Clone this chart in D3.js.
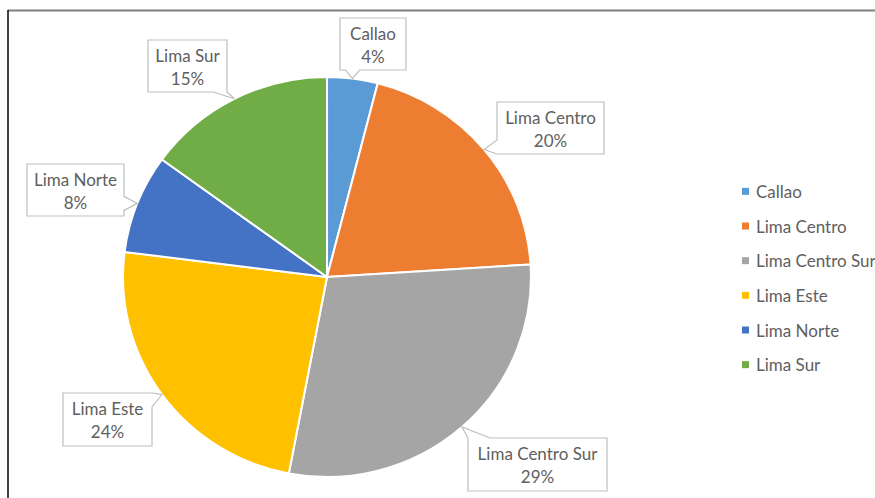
<!DOCTYPE html>
<html>
<head>
<meta charset="utf-8">
<script src="https://cdn.jsdelivr.net/npm/d3@7"></script>
<style>
  html, body { margin: 0; padding: 0; background: #fff; }
  svg { display: block; }
  text { font-family: Lato, "Open Sans", sans-serif; fill: #606060; }
</style>
</head>
<body>
<svg id="chart" width="875" height="498"></svg>
<script>
// Regions and their share of the total (%)
const regions = ["Callao", "Lima Centro", "Lima Centro Sur", "Lima Este", "Lima Norte", "Lima Sur"];
const shares  = [4, 20, 29, 24, 8, 15];
const colors  = ["#5B9BD5", "#ED7D31", "#A5A5A5", "#FFC000", "#4472C4", "#70AD47"];

// Callout boxes for the data labels: [x, y, width, height, side the pointer leaves from]
const calloutBoxes = [
  [340, 18, 66, 52, "bottom"],
  [497, 102, 107, 52, "left"],
  [468, 438, 139, 53, "top"],
  [63, 393, 89, 53, "right"],
  [27, 164, 97, 52, "right"],
  [148, 40, 79, 52, "bottom"]
];

const svg = d3.select("#chart");
const W = 875, H = 498;
const cx = 327, cy = 277, r = 200, sx = 1.02;
const fontSize = 17;

// frame edges
svg.append("line").attr("x1", 8).attr("x2", W).attr("y1", 10.5).attr("y2", 10.5)
  .attr("stroke", "#7f7f7f").attr("stroke-width", 2);
svg.append("line").attr("x1", 8).attr("x2", 8).attr("y1", 10).attr("y2", H)
  .attr("stroke", "#000").attr("stroke-width", 1.5);

const data = regions.map((name, i) => ({ name, value: shares[i], color: colors[i] }));
const pie = d3.pie().value(d => d.value).sort(null);
const arcs = pie(data);
const arc = d3.arc().innerRadius(0).outerRadius(r);

const g = svg.append("g").attr("transform", `translate(${cx},${cy}) scale(${sx},1)`);
g.selectAll("path.slice").data(arcs).join("path")
  .attr("class", "slice")
  .attr("d", arc)
  .attr("fill", d => d.data.color)
  .attr("stroke", "#fff")
  .attr("stroke-width", 2)
  .attr("stroke-linejoin", "round");

// callout path: rectangle with a pointer on one side ending at the slice edge
function calloutPath(box, tip) {
  const [x, y, w, h, side] = box;
  const x2 = x + w, y2 = y + h, bw = 14;
  const clamp = (v, lo, hi) => Math.max(lo, Math.min(hi, v));
  const p = d3.path();
  p.moveTo(x, y);
  if (side === "top") {
    const a = clamp(tip[0] - bw / 2, x, x2 - bw);
    p.lineTo(a, y); p.lineTo(tip[0], tip[1]); p.lineTo(a + bw + 8, y);
  }
  p.lineTo(x2, y);
  if (side === "right") {
    const a = clamp(tip[1] - bw / 2, y, y2 - bw);
    p.lineTo(x2, a); p.lineTo(tip[0], tip[1]); p.lineTo(x2, a + bw);
  }
  p.lineTo(x2, y2);
  if (side === "bottom") {
    const a = clamp(tip[0] - bw / 2, x, x2 - bw);
    p.lineTo(a + bw, y2); p.lineTo(tip[0], tip[1]); p.lineTo(a, y2);
  }
  p.lineTo(x, y2);
  if (side === "left") {
    const a = clamp(tip[1] - bw / 2, y, y2 - bw);
    p.lineTo(x, a + bw); p.lineTo(tip[0], tip[1]); p.lineTo(x, a);
  }
  p.closePath();
  return p.toString();
}

const labels = svg.append("g");
arcs.forEach((d, i) => {
  const mid = (d.startAngle + d.endAngle) / 2;
  const tip = [cx + sx * r * Math.sin(mid), cy - r * Math.cos(mid)];
  const box = calloutBoxes[i];
  const lg = labels.append("g");
  lg.append("path")
    .attr("d", calloutPath(box, tip))
    .attr("fill", "#fff")
    .attr("stroke", "#bfbfbf")
    .attr("stroke-width", 1.2)
    .attr("stroke-linejoin", "miter");
  const tx = box[0] + box[2] / 2;
  lg.append("text").attr("x", tx).attr("y", box[1] + 15)
    .attr("text-anchor", "middle").attr("dominant-baseline", "central")
    .attr("font-size", fontSize).text(d.data.name);
  lg.append("text").attr("x", tx).attr("y", box[1] + 38)
    .attr("text-anchor", "middle").attr("dominant-baseline", "central")
    .attr("font-size", fontSize).text(d.data.value + "%");
});

// legend
const legendY = d3.scaleBand().domain(regions).range([174, 382]);
const legend = svg.append("g");
regions.forEach((name, i) => {
  const yc = legendY(name) + legendY.bandwidth() / 2;
  legend.append("rect").attr("x", 742).attr("y", yc - 3.5).attr("width", 7).attr("height", 7)
    .attr("fill", colors[i]);
  legend.append("text").attr("x", 756).attr("y", yc)
    .attr("dominant-baseline", "central").attr("font-size", fontSize).text(name);
});
</script>
</body>
</html>
